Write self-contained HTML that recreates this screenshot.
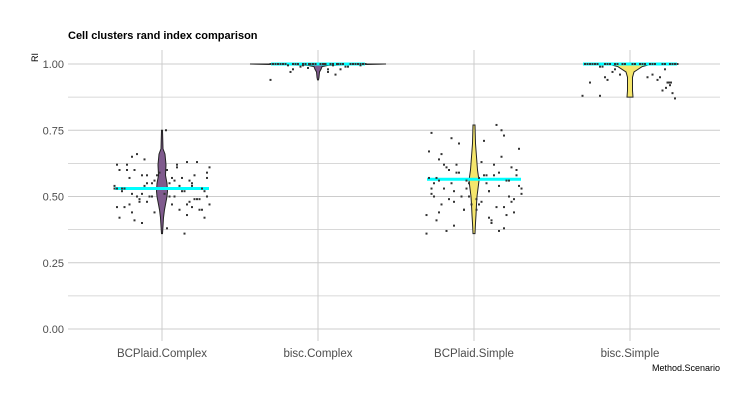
<!DOCTYPE html>
<html><head><meta charset="utf-8"><style>
body{margin:0;background:#fff;font-family:"Liberation Sans",sans-serif}
</style></head><body>
<svg id="chart" width="750" height="400" xmlns="http://www.w3.org/2000/svg">
<rect width="750" height="400" fill="#fff"/>
<text x="68" y="39" font-size="11" font-weight="bold" fill="#000">Cell clusters rand index comparison</text>
<text transform="translate(38,62) rotate(-90)" font-size="9" fill="#000">RI</text>
<text x="720" y="371" font-size="9" text-anchor="end" fill="#000">Method.Scenario</text>
<g id="grid"></g><g id="marks"></g><g id="axes"></g>
</svg>
<script>
const categories=["BCPlaid.Complex","bisc.Complex","BCPlaid.Simple","bisc.Simple"];
const yTicks=[0,0.25,0.5,0.75,1];
const yTickLabels=["0.00","0.25","0.50","0.75","1.00"];
const medians=[0.53,1.0,0.565,1.0];
const fills=["#7f5a8d","#7f5a8d","#f5e66c","#f5e66c"];
const violinVals=[
 [0.75,0.68,0.66,0.62,0.58,0.55,0.52,0.50,0.48,0.45,0.42,0.40,0.36],
 [1.0,0.995,0.99,0.98,0.97,0.95,0.94],
 [0.77,0.70,0.65,0.60,0.56,0.53,0.50,0.47,0.43,0.40,0.36],
 [1.0,0.99,0.97,0.95,0.93,0.90,0.875]];
const violinWidths=[
 [0.5,1,3,4,3.5,5,5.5,5,4,2.5,1.5,1.2,0.5],
 [68,10,4,3,1.5,1,0.5],
 [1,1.5,2.5,3.5,5,4,3,2.5,2,1.5,1],
 [22,12,4,2.5,2.5,2.5,3]];
const ptVals=[
 [0.75,0.65,0.62,0.63,0.60,0.61,0.58,0.57,0.55,0.54,0.53,0.52,0.50,0.49,0.48,0.47,0.46,0.45,0.44,0.43,0.40,0.38,0.36,0.64,0.60,0.58,0.56,0.54,0.53,0.52,0.50,0.50,0.49,0.48,0.47,0.45,0.42,0.56,0.59,0.61,0.53,0.51,0.46,0.55,0.57,
  0.66,0.63,0.62,0.60,0.59,0.58,0.57,0.56,0.55,0.54,0.53,0.53,0.52,0.51,0.50,0.50,0.49,0.48,0.47,0.46,0.45,0.44,0.42,0.41,0.52,0.55,0.58,0.60,0.62,0.49,0.51,0.47,0.54,0.57,0.50],
 [1.0,1.0,1.0,1.0,1.0,1.0,1.0,1.0,1.0,1.0,1.0,1.0,1.0,1.0,0.995,0.99,0.985,0.98,0.97,0.94,0.96,1.0,1.0,1.0,0.995,0.99,0.98,
  1.0,1.0,1.0,1.0,1.0,1.0,1.0,1.0,1.0,1.0,1.0,1.0,0.995,0.995,0.99,0.98,0.97,1.0,1.0,1.0,1.0,1.0],
 [0.74,0.73,0.70,0.68,0.64,0.62,0.60,0.58,0.57,0.56,0.55,0.54,0.53,0.52,0.50,0.49,0.48,0.47,0.45,0.43,0.41,0.40,0.37,0.36,0.77,0.75,0.72,0.66,0.63,0.61,0.59,0.58,0.56,0.55,0.53,0.51,0.50,0.49,0.47,0.46,0.44,0.42,0.37,0.52,0.57,
  0.71,0.67,0.65,0.62,0.60,0.59,0.58,0.57,0.56,0.55,0.54,0.53,0.52,0.51,0.50,0.49,0.48,0.47,0.46,0.45,0.44,0.43,0.41,0.39,0.38,0.55,0.58,0.61,0.53,0.50,0.48,0.56,0.59,0.62,0.45],
 [1.0,1.0,1.0,1.0,1.0,1.0,1.0,1.0,1.0,1.0,1.0,1.0,1.0,1.0,0.99,0.98,0.97,0.95,0.94,0.93,0.92,0.90,0.88,0.87,0.96,0.95,0.93,0.89,
  1.0,1.0,1.0,1.0,1.0,1.0,1.0,1.0,1.0,1.0,0.99,0.98,0.96,0.95,0.94,0.93,0.93,0.91,0.88,1.0,1.0,1.0]];
const ptJitter=[
 [0.08,-0.6,-0.9,0.5,-0.7,0.3,-0.4,0.9,-0.2,0.6,-0.8,0.4,-0.5,0.7,-0.3,0.2,-0.9,0.8,-0.6,0.5,-0.4,0.1,0.45,-0.35,-0.55,0.65,-0.15,0.35,-0.75,0.85,-0.25,0.15,-0.45,0.55,-0.65,0.75,-0.85,0.25,-0.05,0.95,-0.95,0.05,0.6,-0.3,0.4,
  -0.5,0.7,0.3,-0.85,0.9,-0.1,-0.65,0.55,0.15,-0.35,0.8,-0.9,0.45,-0.6,0.25,-0.2,0.65,-0.45,0.95,-0.75,0.35,-0.15,0.85,-0.55,-0.8,0.6,-0.3,0.1,-0.7,0.75,-0.4,0.5,-0.95,0.2,0.9],
 [-0.9,-0.7,-0.5,-0.3,-0.1,0.1,0.3,0.5,0.7,0.9,-0.8,-0.4,0.4,0.8,-0.6,0.6,-0.2,0.2,-0.55,-0.95,0.35,-0.15,0.15,0.65,0.85,-0.35,0.45,
  -0.85,-0.65,-0.45,-0.25,-0.05,0.05,0.25,0.45,0.65,0.85,-0.75,0.75,-0.3,0.3,0.55,-0.5,0.2,0.95,-0.95,0.12,-0.18,0.38],
 [-0.85,0.6,-0.3,0.9,-0.7,0.4,-0.5,0.2,-0.9,0.7,-0.1,0.5,-0.6,0.3,-0.8,0.8,-0.4,0.1,-0.2,0.65,-0.75,0.35,-0.55,-0.95,0.45,0.55,-0.45,-0.65,0.15,0.75,-0.35,0.85,-0.15,0.25,-0.85,0.95,-0.25,0.05,-0.05,0.6,-0.7,0.3,0.5,-0.4,0.1,
  0.2,-0.9,0.55,-0.6,0.85,-0.3,0.4,-0.75,0.65,-0.45,0.9,-0.15,0.3,-0.85,0.7,-0.5,0.15,-0.65,0.45,-0.2,0.8,-0.95,0.35,-0.4,0.6,-0.8,0.25,-0.55,0.95,-0.1,0.75,-0.7,0.5,-0.35,0.05],
 [-0.9,-0.7,-0.5,-0.3,-0.1,0.1,0.3,0.5,0.7,0.9,-0.8,-0.4,0.4,0.8,-0.6,0.7,-0.35,-0.5,0.55,-0.8,0.8,0.65,-0.95,0.9,-0.2,0.35,0.75,0.85,
  -0.85,-0.65,-0.45,-0.25,0.05,0.25,0.45,0.65,0.85,-0.75,-0.55,-0.3,0.45,0.6,-0.45,0.78,0.82,0.72,-0.6,0.2,-0.15,0.95]];
const X0=162,DX=156,Y0=329,Y1=64;
const x=i=>X0+i*DX, y=v=>Y0-(Y0-Y1)*v;
const NS="http://www.w3.org/2000/svg";
function mk(p,t,a){const e=document.createElementNS(NS,t);for(const k in a)e.setAttribute(k,a[k]);p.appendChild(e);return e;}
const grid=document.getElementById('grid'),marks=document.getElementById('marks'),axes=document.getElementById('axes');
for(let i=0;i<yTicks.length;i++){
 const gl=mk(grid,'line',{x1:68,x2:720,y1:y(yTicks[i]),y2:y(yTicks[i]),stroke:'#cccccc','stroke-width':1});
 
 
 if(i<yTicks.length-1){const m=mk(grid,'line',{x1:68,x2:720,y1:y(yTicks[i]+0.125),y2:y(yTicks[i]+0.125),stroke:'#cccccc','stroke-width':0.8});
 
 }
 const t=mk(axes,'text',{x:64,y:y(yTicks[i])+4,'text-anchor':'end','font-size':11,fill:'#4d4d4d'});t.textContent=yTickLabels[i];
 
 
}
categories.forEach((c,i)=>{
 const gl=mk(grid,'line',{x1:x(i),x2:x(i),y1:50,y2:341,stroke:'#cccccc','stroke-width':1});
 
 
 const t=mk(axes,'text',{x:x(i),y:357,'text-anchor':'middle','font-size':11.5,fill:'#4d4d4d'});t.textContent=c;
 
 
 const vv=violinVals[i],ww=violinWidths[i];
 let d='M'+(x(i)+ww[0])+','+y(vv[0]);
 for(let k=1;k<vv.length;k++)d+='L'+(x(i)+ww[k])+','+y(vv[k]);
 for(let k=vv.length-1;k>=0;k--)d+='L'+(x(i)-ww[k])+','+y(vv[k]);
 const v=mk(marks,'path',{d:d+'Z',fill:fills[i],stroke:'#222','stroke-width':1});
 
 
 const md=mk(marks,'line',{x1:x(i)-47,x2:x(i)+47,y1:y(medians[i]),y2:y(medians[i]),stroke:'#00ffff','stroke-width':3});
 
 
 ptVals[i].forEach((pv,k)=>{
  const p=mk(marks,'rect',{x:x(i)+ptJitter[i][k]*50-1,y:y(pv)-1,width:2,height:2,fill:'#333'});
  
  
 });
});
</script>
</body></html>
